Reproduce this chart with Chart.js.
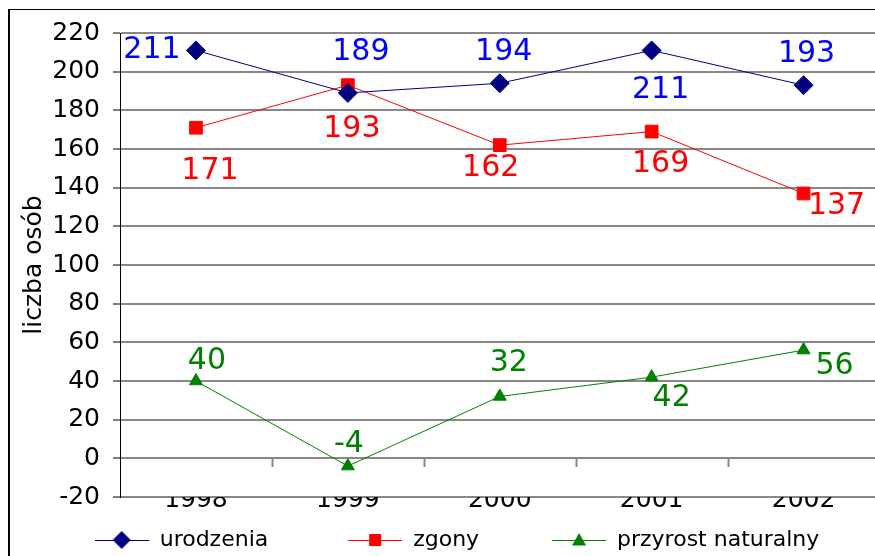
<!DOCTYPE html>
<html>
<head>
<meta charset="utf-8">
<script src="https://cdn.jsdelivr.net/npm/chart.js@4/dist/chart.umd.min.js"></script>
<style>
  html, body { margin: 0; padding: 0; background: #fff; overflow: hidden; width: 875px; height: 556px; }
  #frame { position: absolute; left: 8px; top: 9px; width: 900px; height: 560px;
           border-left: 2px solid #000; border-top: 1px solid #000; }
  #chart { position: absolute; left: 0; top: 0; }
</style>
</head>
<body>
<div id="frame"></div>
<canvas id="chart" width="890" height="556"></canvas>
<script>
const years = ['1998', '1999', '2000', '2001', '2002'];
const urodzenia = [211, 189, 194, 211, 193];
const zgony = [171, 193, 162, 169, 137];
const przyrost = [40, -4, 32, 42, 56];
const seriesNames = ['urodzenia', 'zgony', 'przyrost naturalny'];

// where each value label sits relative to its point (dx, dy in px)
const labelOffsets = [
    [[-44, 0], [13, -41], [4, -31], [9, 40], [3, -31]],
    [[14, 43], [4, 44], [-9, 23], [9, 33], [33, 13]],
    [[11, -20], [1, -22], [9, -33], [20, 21], [31, 16]]
];
const labelColors = ['#0000ff', '#ff0000', '#008000'];
const FONT = '"DejaVu Sans", sans-serif';

// small line+marker picture for the legend
function legendIcon(color, shape, size) {
    const c = document.createElement('canvas');
    c.width = 54; c.height = 20;
    const g = c.getContext('2d');
    g.strokeStyle = color; g.lineWidth = 1;
    g.beginPath(); g.moveTo(0, 10.5); g.lineTo(54, 10.5); g.stroke();
    g.fillStyle = color;
    g.beginPath();
    if (shape === 'diamond') {
        g.moveTo(27, 10 - size); g.lineTo(27 + size, 10); g.lineTo(27, 10 + size); g.lineTo(27 - size, 10);
    } else if (shape === 'square') {
        g.rect(27 - size, 10 - size, size * 2, size * 2);
    } else {
        g.moveTo(27, 10 - size); g.lineTo(27 + size, 10 + size * 0.8); g.lineTo(27 - size, 10 + size * 0.8);
    }
    g.closePath(); g.fill();
    return c;
}
const icons = [legendIcon('#000080', 'diamond', 9), legendIcon('#ff0000', 'square', 6), legendIcon('#008000', 'triangle', 7)];
const legendGaps = [10, 9, 0]; // trailing spaces to spread the legend items

const valueLabels = {
    id: 'valueLabels',
    afterDatasetsDraw(chart) {
        const ctx = chart.ctx;
        ctx.save();
        ctx.font = '30px ' + FONT;
        ctx.textAlign = 'center';
        ctx.textBaseline = 'middle';
        chart.data.datasets.forEach((ds, i) => {
            chart.getDatasetMeta(i).data.forEach((pt, j) => {
                const [dx, dy] = labelOffsets[i][j];
                ctx.fillStyle = labelColors[i];
                ctx.fillText(String(ds.data[j]), pt.x + dx, pt.y + dy);
            });
        });
        ctx.restore();
    }
};

// little tick marks on the zero line between categories
const zeroTicks = {
    id: 'zeroTicks',
    beforeDatasetsDraw(chart) {
        const x = chart.scales.x, y = chart.scales.y;
        const y0 = Math.round(y.getPixelForValue(0));
        const step = x.width / years.length;
        const ctx = chart.ctx;
        ctx.save();
        ctx.strokeStyle = '#888';
        ctx.lineWidth = 2;
        for (let k = 1; k < years.length; k++) {
            const px = Math.round(x.left + k * step) + 0.5;
            ctx.beginPath(); ctx.moveTo(px, y0); ctx.lineTo(px, y0 + 9); ctx.stroke();
        }
        ctx.restore();
    }
};

new Chart(document.getElementById('chart'), {
    type: 'line',
    data: {
        labels: years,
        datasets: [
            {
                label: seriesNames[0], data: urodzenia,
                borderColor: '#000080', backgroundColor: '#000080', borderWidth: 1,
                pointStyle: 'rectRot', pointRadius: 9.5, pointBorderWidth: 1,
                pointBackgroundColor: '#000080', pointBorderColor: '#000080'
            },
            {
                label: seriesNames[1], data: zgony,
                borderColor: '#ff0000', backgroundColor: '#ff0000', borderWidth: 1,
                pointStyle: 'rect', pointRadius: 9, pointBorderWidth: 1,
                pointBackgroundColor: '#ff0000', pointBorderColor: '#ff0000'
            },
            {
                label: seriesNames[2], data: przyrost,
                borderColor: '#008000', backgroundColor: '#008000', borderWidth: 1,
                pointStyle: 'triangle', pointRadius: 7.5, pointBorderWidth: 1,
                pointBackgroundColor: '#008000', pointBorderColor: '#008000'
            }
        ]
    },
    options: {
        responsive: false,
        animation: false,
        events: [],
        layout: { padding: { left: 32, top: 33, right: 8, bottom: -5 } },
        plugins: {
            tooltip: { enabled: false },
            legend: {
                position: 'bottom',
                labels: {
                    usePointStyle: true,
                    pointStyleWidth: 54,
                    padding: 10,
                    color: '#000',
                    font: { family: FONT, size: 22 },
                    generateLabels: (chart) => chart.data.datasets.map((ds, i) => ({
                        text: ds.label + ' '.repeat(legendGaps[i]),
                        pointStyle: icons[i],
                        fillStyle: ds.borderColor,
                        strokeStyle: ds.borderColor,
                        lineWidth: 0,
                        hidden: false,
                        datasetIndex: i
                    }))
                }
            }
        },
        scales: {
            x: {
                offset: true,
                grid: { display: false, drawTicks: false },
                border: { display: false },
                ticks: { color: '#000', padding: -12, font: { family: FONT, size: 25 } },
                afterFit: (scale) => { scale.height = 22; }
            },
            y: {
                min: -20, max: 220,
                ticks: { stepSize: 20, color: '#000', padding: 13, font: { family: FONT, size: 25 } },
                grid: { color: '#888', lineWidth: 2, tickColor: '#000', tickLength: 7, tickWidth: 1 },
                border: { display: true, color: '#000', width: 1 },
                title: {
                    display: true, text: 'liczba osób', color: '#000',
                    font: { family: FONT, size: 25 }, padding: { top: -13, bottom: 0 }
                },
                afterFit: (scale) => { scale.width = 88; }
            }
        }
    },
    plugins: [zeroTicks, valueLabels]
});
</script>
</body>
</html>
